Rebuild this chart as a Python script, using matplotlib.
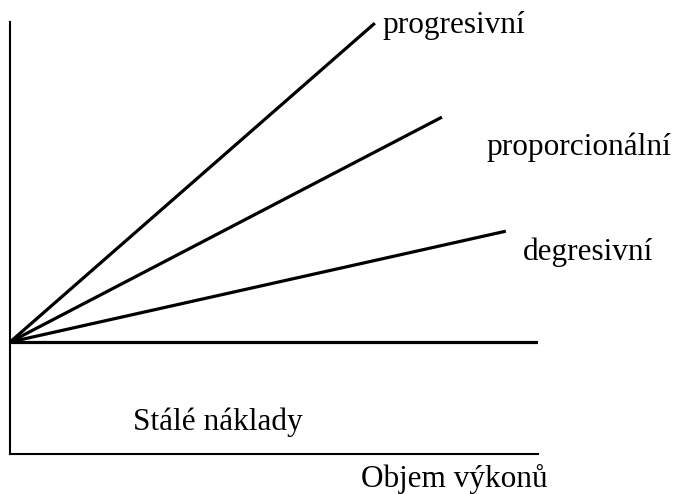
import matplotlib
matplotlib.use("Agg")
import matplotlib.pyplot as plt

plt.rcParams['font.family'] = ['Liberation Serif', 'DejaVu Serif']

# cost curves: all start at the fixed-cost level at zero volume
fixed_cost = 2.12
x_max = 10.0
curve_names = ["progresivní", "proporcionální", "degresivní"]
curve_end_x = [6.91, 8.18, 9.39]
curve_end_y = [8.16, 6.38, 4.22]

fixed_label = "Stálé náklady"
x_label = "Objem výkonů"

fig = plt.figure(figsize=(6.78, 4.94), dpi=100)
ax = fig.add_axes([10 / 678, 40 / 494, 528 / 678, 432 / 494])
ax.set_xlim(0, x_max)
ax.set_ylim(0, 432 / 52.8)

for xe, ye in zip(curve_end_x, curve_end_y):
    ax.plot([0, xe], [fixed_cost, ye], color='black', lw=2.3,
            solid_capstyle='butt')
ax.plot([0, x_max], [fixed_cost, fixed_cost], color='black', lw=2.3,
        solid_capstyle='butt')

# labels next to the curve ends
label_pos = [(7.06, 7.97), (9.03, 5.66), (9.72, 3.67)]
for name, (tx, ty) in zip(curve_names, label_pos):
    ax.text(tx, ty, name, fontsize=22.5, va='baseline', ha='left',
            clip_on=False)

ax.text(2.33, 0.45, fixed_label, fontsize=22.5, va='baseline', ha='left')
ax.text(6.65, -0.625, x_label, fontsize=22.5, va='baseline', ha='left',
        clip_on=False)

for side in ['top', 'right']:
    ax.spines[side].set_visible(False)
for side in ['left', 'bottom']:
    ax.spines[side].set_linewidth(1.5)
ax.set_xticks([])
ax.set_yticks([])

fig.savefig("out.png", dpi=100)
